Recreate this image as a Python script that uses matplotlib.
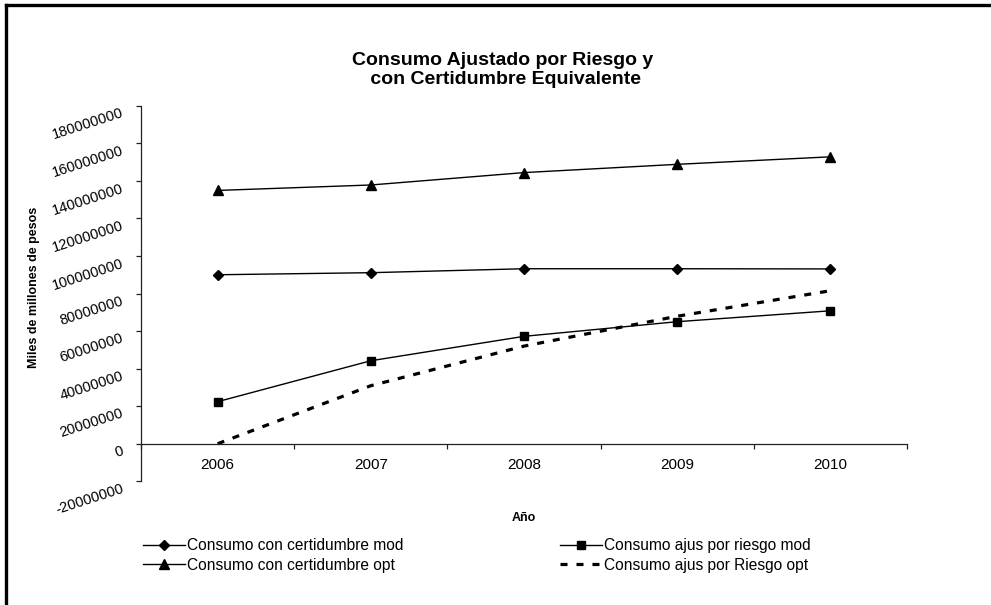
import matplotlib
matplotlib.use("Agg")
import matplotlib.pyplot as plt
from matplotlib.lines import Line2D
from matplotlib.transforms import ScaledTranslation

plt.rcParams['font.family'] = ['Liberation Sans', 'DejaVu Sans']

# Data (miles de millones de pesos)
years = ['2006', '2007', '2008', '2009', '2010']
cert_mod = [90000000, 91100000, 93200000, 93200000, 93100000]
cert_opt = [134900000, 137800000, 144400000, 148800000, 152800000]
riesgo_mod = [22400000, 44200000, 57200000, 65000000, 70800000]
riesgo_opt = [0, 30900000, 52000000, 67900000, 81500000]
y_ticks = [-20000000, 0, 20000000, 40000000, 60000000, 80000000,
           100000000, 120000000, 140000000, 160000000, 180000000]

W, H = 991, 605
fig = plt.figure(figsize=(W / 100, H / 100), dpi=100)
fig.patch.set_facecolor('white')

# Outer chart frame (left and top edges)
fig.add_artist(Line2D([6 / W, 6 / W], [0, 1 - 5 / H], transform=fig.transFigure,
                      color='black', lw=2.4, solid_capstyle='projecting'))
fig.add_artist(Line2D([6 / W, 1], [1 - 5 / H, 1 - 5 / H], transform=fig.transFigure,
                      color='black', lw=2.4, solid_capstyle='projecting'))

left, right = 141, 907
top, bottom = 105.75, 481.3
ax = fig.add_axes([left / W, 1 - bottom / H, (right - left) / W, (bottom - top) / H])

x = list(range(1, len(years) + 1))
l1, = ax.plot(x, cert_mod, color='black', lw=1.0, marker='D', ms=5.5,
              label='Consumo con certidumbre mod')
l2, = ax.plot(x, cert_opt, color='black', lw=1.0, marker='^', ms=7,
              label='Consumo con certidumbre opt')
l3, = ax.plot(x, riesgo_mod, color='black', lw=1.0, marker='s', ms=6,
              label='Consumo ajus por riesgo mod')
l4, = ax.plot(x, riesgo_opt, color='black', lw=2.3, ls=(0, (2.2, 2.8)),
              label='Consumo ajus por Riesgo opt')

ax.set_xlim(0.5, 5.5)
ax.set_ylim(y_ticks[0], y_ticks[-1])

for s in ['top', 'right']:
    ax.spines[s].set_visible(False)
ax.spines['left'].set_color('#222222')
ax.spines['left'].set_linewidth(0.9)
ax.spines['bottom'].set_position(('data', 0))
ax.spines['bottom'].set_color('#222222')
ax.spines['bottom'].set_linewidth(0.9)

# x axis: ticks between categories, labels at category centres
ax.set_xticks([i + 0.5 for i in range(0, len(years) + 1)])
ax.set_xticklabels([])
ax.set_xticks(x, minor=True)
ax.set_xticklabels(years, minor=True, fontsize=11)
ax.tick_params(axis='x', which='major', direction='out', length=3.5, width=0.9, color='#222222')
ax.tick_params(axis='x', which='minor', length=0, pad=10)

# y axis: rotated labels drawn next to each tick
ax.set_yticks(y_ticks)
ax.set_yticklabels([])
ax.tick_params(axis='y', direction='out', length=3.5, width=0.9, color='#222222')
offset = ScaledTranslation(-18 / 100, -7 / 100, fig.dpi_scale_trans)
for v in y_ticks:
    ax.text(0, v, f'{v:d}', transform=ax.get_yaxis_transform() + offset,
            rotation=18, rotation_mode='anchor', ha='right', va='center',
            fontsize=10.5, color='black')

fig.text(503 / W, 1 - 70 / H, 'Consumo Ajustado por Riesgo y\n con Certidumbre Equivalente',
         ha='center', va='center', fontsize=14, fontweight='bold', linespacing=1.2)
fig.text(34 / W, 1 - 287 / H, 'Miles de millones de pesos', rotation=90,
         ha='center', va='center', fontsize=9, fontweight='bold')
fig.text(524 / W, 1 - 518 / H, 'Año', ha='center', va='center',
         fontsize=9, fontweight='bold')

leg_kw = dict(frameon=False, fontsize=11.2, handlelength=2.7, handletextpad=0.15,
              labelspacing=0.3, borderpad=0, borderaxespad=0, loc='upper left')
leg1 = fig.legend(handles=[l1, l2], bbox_to_anchor=(143 / W, 1 - 538 / H), **leg_kw)
leg2 = fig.legend(handles=[l3, l4], bbox_to_anchor=(560 / W, 1 - 538 / H), **leg_kw)

fig.savefig('out.png', dpi=100, facecolor='white')
